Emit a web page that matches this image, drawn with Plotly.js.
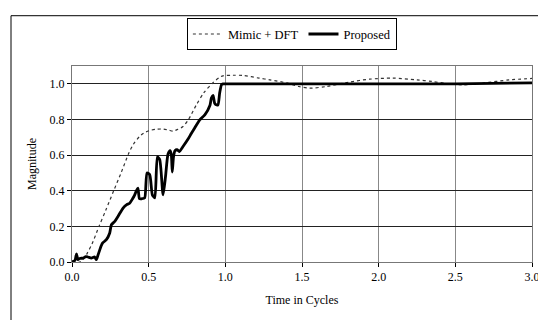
<!DOCTYPE html>
<html>
<head>
<meta charset="utf-8">
<script src="https://cdn.plot.ly/plotly-3.0.1.min.js"></script>
<style>
html,body{margin:0;padding:0;background:#fff;}
#chart{width:538px;height:320px;}
</style>
</head>
<body>
<div id="chart"></div>
<script>
// Mimic + DFT (dotted)
const mimicT = [0, 0.05, 0.08, 0.10, 0.13, 0.176, 0.22, 0.272, 0.32, 0.37, 0.40, 0.44, 0.47, 0.507, 0.55, 0.594, 0.63, 0.659, 0.69, 0.724, 0.76, 0.81, 0.86, 0.92, 0.96, 0.985, 1.05, 1.115, 1.22, 1.29, 1.40, 1.48, 1.55, 1.66, 1.81, 1.94, 2.09, 2.25, 2.35, 2.46, 2.55, 2.68, 2.85, 3.0];
const mimicV = [0, 0, 0.02, 0.05, 0.10, 0.20, 0.29, 0.40, 0.50, 0.61, 0.66, 0.704, 0.725, 0.738, 0.745, 0.746, 0.74, 0.735, 0.745, 0.76, 0.80, 0.88, 0.95, 1.007, 1.035, 1.045, 1.048, 1.047, 1.032, 1.022, 1.005, 0.985, 0.976, 0.985, 1.01, 1.026, 1.032, 1.022, 1.013, 1.0, 0.994, 1.004, 1.022, 1.03];

// Proposed (solid)
const propT = [0, 0.007, 0.02, 0.029, 0.039, 0.05, 0.072, 0.09, 0.104, 0.126, 0.148, 0.159, 0.17, 0.18, 0.19, 0.20, 0.224, 0.246, 0.257, 0.279, 0.30, 0.333, 0.355, 0.376, 0.395, 0.409, 0.42, 0.43, 0.44, 0.455, 0.474, 0.489, 0.507, 0.524, 0.54, 0.557, 0.572, 0.594, 0.61, 0.626, 0.64, 0.648, 0.654, 0.662, 0.672, 0.685, 0.70, 0.724, 0.757, 0.779, 0.80, 0.833, 0.866, 0.90, 0.909, 0.92, 0.93, 0.94, 0.952, 0.963, 0.975, 0.985, 1.0, 1.5, 2.0, 2.5, 3.0];
const propV = [0, 0.003, 0.01, 0.045, 0.013, 0.02, 0.022, 0.03, 0.028, 0.022, 0.028, 0.013, 0.04, 0.065, 0.09, 0.107, 0.125, 0.163, 0.209, 0.228, 0.256, 0.303, 0.321, 0.33, 0.355, 0.377, 0.40, 0.415, 0.355, 0.355, 0.36, 0.50, 0.49, 0.377, 0.36, 0.59, 0.575, 0.377, 0.48, 0.605, 0.625, 0.60, 0.505, 0.59, 0.625, 0.63, 0.62, 0.648, 0.69, 0.723, 0.752, 0.798, 0.826, 0.88, 0.92, 0.935, 0.892, 0.882, 0.882, 0.948, 0.995, 1.0, 1.0, 1.0, 1.0, 1.0, 1.005];

const xTickVals = [0, 0.5, 1.0, 1.5, 2.0, 2.5, 3.0];
const xTickText = ['0.0', '0.5', '1.0', '1.5', '2.0', '2.5', '3.0'];
const yTickVals = [0, 0.2, 0.4, 0.6, 0.8, 1.0];
const yTickText = ['0.0', '0.2', '0.4', '0.6', '0.8', '1.0'];

const serif = '"Liberation Serif", "Times New Roman", serif';
const font = {family: serif, size: 12, color: '#000'};

const traces = [
  {x: mimicT, y: mimicV, name: 'Mimic + DFT', type: 'scatter', mode: 'lines',
   line: {color: '#333', width: 1.2, dash: 'dot', shape: 'spline', smoothing: 0.8}},
  {x: propT, y: propV, name: 'Proposed', type: 'scatter', mode: 'lines',
   line: {color: '#000', width: 2.8, shape: 'spline', smoothing: 0.6}}
];

const layout = {
  width: 538, height: 320,
  margin: {l: 72, r: 6, t: 66, b: 58},
  paper_bgcolor: '#fff', plot_bgcolor: '#fff',
  font: font,
  showlegend: true,
  legend: {orientation: 'h', x: 0.478, xanchor: 'center', y: 1.243, yanchor: 'top',
           bordercolor: '#000', borderwidth: 1, font: {family: serif, size: 12.5, color: '#000'},
           itemwidth: 30, tracegroupgap: 0, bgcolor: '#fff'},
  xaxis: {range: [0, 3], tickvals: xTickVals, ticktext: xTickText,
          tickfont: {family: serif, size: 12, color: '#000'},
          showgrid: true, gridcolor: '#888', gridwidth: 1,
          ticks: 'outside', ticklen: 4, tickcolor: '#000',
          ticklabeloverflow: 'allow',
          showline: true, linecolor: '#777', mirror: true, zeroline: false,
          title: {text: 'Time in Cycles', font: font, standoff: 12}},
  yaxis: {range: [0, 1.1], tickvals: yTickVals, ticktext: yTickText,
          tickfont: {family: serif, size: 12, color: '#000'},
          showgrid: true, gridcolor: '#222', gridwidth: 1,
          ticks: 'outside', ticklen: 4, tickcolor: '#000',
          showline: true, linecolor: '#777', mirror: true, zeroline: false,
          title: {text: 'Magnitude', font: font, standoff: 10}},
  shapes: [
    {type: 'rect', xref: 'paper', yref: 'paper', x0: -0.1326, x1: 1.5, y0: -0.6, y1: 1.2566,
     line: {color: '#000', width: 1}, fillcolor: 'rgba(0,0,0,0)', layer: 'above'}
  ]
};

Plotly.newPlot('chart', traces, layout, {displayModeBar: false, staticPlot: true});
</script>
</body>
</html>
